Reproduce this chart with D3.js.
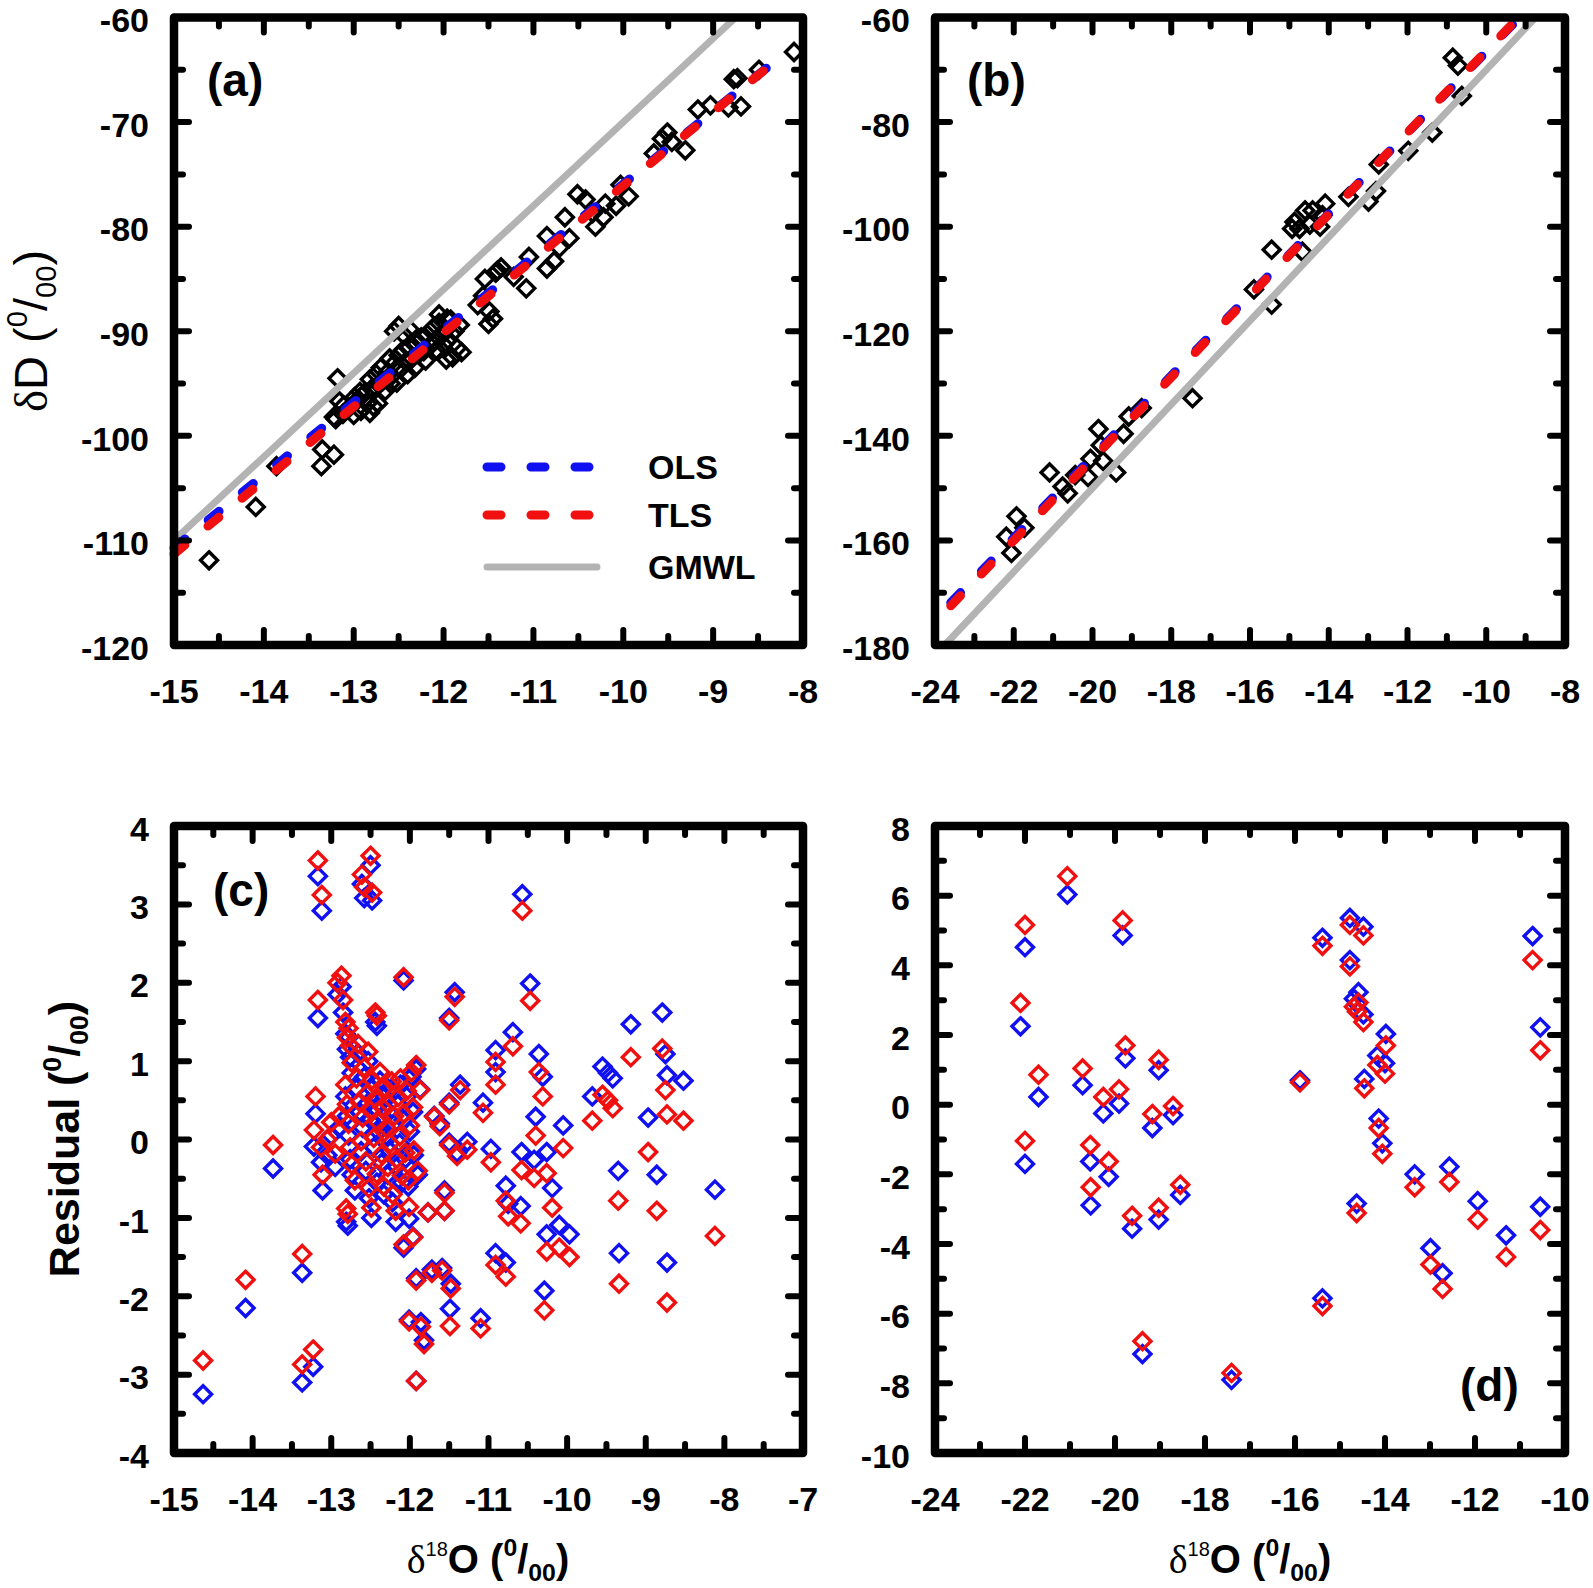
<!DOCTYPE html>
<html><head><meta charset="utf-8">
<script src="https://cdn.jsdelivr.net/npm/d3@7"></script>
<style>body{margin:0;background:#fff}</style>
</head><body>
<svg id="chart" width="1593" height="1588"></svg>
<script>
// ---------------- DATA ----------------
// Panel (a): measured δ18O / δD
const aO18 = [-14.61,-14.09,-13.86,-13.36,-13.35,-13.22,-13.18,-13.16,-13.20,-13.12,-13.22,-13.11,-12.99,-12.93,-12.82,-12.73,-12.59,
  -12.50,-12.05,-11.90,-11.88,-11.80,-11.97,-11.62,-11.45,-11.50,-11.49,-11.56,-11.40,-11.54,-11.42,-11.36,-11.22,-11.08,-11.05,
  -10.85,-10.85,-10.77,-10.71,-10.65,-10.60,-10.51,-10.42,-10.34,-10.31,-10.22,-10.20,-10.08,-10.03,-9.94,-9.66,-9.57,-9.51,-9.46,
  -9.31,-9.17,-9.03,-8.83,-8.69,-8.77,-8.73,-8.49,-8.10,
  -13.05,-13.00,-12.95,-12.92,-12.88,-12.85,-12.82,-12.80,-12.78,-12.75,-12.72,-12.70,-12.68,-12.65,-12.62,-12.60,-12.58,-12.55,
  -12.52,-12.50,-12.48,-12.45,-12.42,-12.40,-12.38,-12.35,-12.32,-12.30,-12.28,-12.25,-12.22,-12.20,-12.18,-12.15,-12.12,-12.10,
  -12.08,-12.05,-12.02,-12.00,-11.98,-11.95,-11.92,-11.85,-11.82,-12.55,-12.45,-12.38,-11.96];
const aD = [-111.9,-106.8,-102.9,-102.9,-101.3,-101.8,-94.5,-96.7,-98.4,-97.9,-98.2,-97.1,-96.3,-95.8,-97.8,-96.9,-95.0,
  -89.5,-88.4,-92.5,-90.0,-92.0,-92.7,-87.5,-88.8,-89.3,-88.1,-86.6,-84.2,-85.0,-84.4,-83.9,-84.8,-85.9,-82.9,
  -80.9,-84.0,-83.3,-82.0,-79.1,-81.1,-76.9,-77.4,-78.7,-80.0,-79.1,-77.8,-78.0,-76.0,-77.1,-73.0,-71.6,-71.0,-71.9,
  -72.7,-68.8,-68.4,-68.6,-68.5,-65.9,-65.8,-65.0,-63.3,
  -97.3,-98.0,-96.5,-97.6,-95.9,-96.9,-94.6,-95.5,-97.2,-94.1,-95.1,-93.5,-94.8,-95.7,-93.9,-92.6,-94.3,-93.1,
  -94.9,-92.3,-93.6,-91.8,-92.9,-94.1,-91.5,-92.6,-93.5,-91.2,-92.2,-90.6,-91.9,-92.8,-90.3,-91.4,-89.7,-90.9,
  -91.8,-89.2,-90.4,-91.3,-89.9,-90.8,-88.9,-91.6,-89.4,-90.0,-90.3,-89.8,-88.8];
const aOLSx = [-15, -8.2], aOLSy = [-110.7, -63.4];
const aTLSx = [-15, -8.2], aTLSy = [-111.3, -63.4];
const aGMWLx = [-15, -8.75], aGMWLy = [-110, -60];

// Panel (b)
const bO18 = [-10.85,-10.72,-10.62,-11.37,-11.98,-12.73,-12.80,-12.99,-13.50,-14.09,-14.16,-14.41,-14.60,-14.87,-14.74,-14.48,
  -14.22,-14.93,-14.67,-15.45,-15.45,-15.90,-17.46,-18.75,-19.08,-19.21,-19.40,-19.85,-19.79,-19.73,-20.05,-20.11,-20.44,
  -20.63,-20.76,-21.09,-21.93,-21.73,-22.19,-22.06];
const bD = [-67.7,-69.2,-75.0,-82.0,-85.5,-88.1,-93.2,-95.2,-94.3,-95.6,-97.8,-96.9,-96.9,-99.1,-100.4,-99.6,
  -100.0,-100.4,-104.8,-104.4,-114.9,-112.0,-132.8,-134.7,-136.3,-139.6,-147.0,-138.7,-141.8,-144.8,-144.4,-147.9,-147.5,
  -151.0,-149.7,-147.0,-155.4,-157.6,-159.3,-162.4];
const bOLSx = [-23.6, -9.0], bOLSy = [-171.9, -58.8];
const bTLSx = [-23.6, -9.0], bTLSy = [-172.5, -58.6];
const bGMWLx = [-23.75, -8.75], bGMWLy = [-180, -60];

// Panel (c): residuals for (a)
const cO18 = [-14.63,-14.09,-13.74,-13.37,-13.37,-13.23,-13.17,-13.12,-13.17,-13.20,-13.22,-13.13,-13.11,-13.05,-13.00,-12.95,-12.90,
  -12.92,-12.87,-12.85,-12.82,-12.80,-12.78,-12.76,-12.74,-12.82,-12.80,-12.78,-12.76,-12.74,-12.81,-12.79,-12.70,-12.68,-12.66,
  -12.64,-12.62,-12.61,-12.58,-12.60,-12.58,-12.56,-12.55,-12.53,-12.52,-12.50,-12.48,-12.50,-12.49,-12.48,-12.46,-12.44,-12.42,
  -12.44,-12.42,-12.40,-12.38,-12.36,-12.35,-12.33,-12.32,-12.30,-12.28,-12.27,-12.25,-12.23,-12.22,-12.20,-12.18,-12.17,-12.15,
  -12.13,-12.12,-12.10,-12.08,-12.08,-12.06,-12.04,-12.02,-12.01,-12.00,-11.98,-11.96,-11.95,-11.92,-11.90,
  -12.08,-11.96,-11.77,-11.69,-11.62,-11.50,-11.40,-11.50,-11.36,-11.87,-11.43,-11.50,-11.56,-11.56,-11.59,-11.72,-11.48,-11.92,
  -11.82,-11.86,-12.01,-11.92,-11.49,-11.10,-11.27,-11.07,-10.97,-10.91,-10.91,-10.69,-10.57,-10.47,-10.36,-10.31,-10.40,-10.05,
  -10.58,-10.42,-10.26,-10.19,-10.78,-10.75,-10.59,-10.91,-10.78,-10.26,-10.10,-9.97,-10.29,-9.68,-9.55,-9.42,-9.48,-9.19,-9.35,
  -9.34,-8.97,-8.86,-8.79,-8.75,-8.73,-8.73,-8.52,-8.12];
const cOLS = [-3.25,-2.15,-0.37,-1.70,-3.10,-2.90,3.36,2.92,1.55,0.33,-0.09,-0.29,-0.65,-0.20,0.05,-0.35,0.15,
  1.85,1.95,1.62,1.35,1.15,1.30,1.05,0.85,0.55,0.30,0.05,-0.25,-0.45,-1.05,-1.10,-0.65,0.65,1.10,
  0.35,-0.15,3.26,3.08,0.15,0.80,-0.40,0.45,1.00,-0.75,3.50,3.05,0.25,-1.00,0.65,-0.10,1.50,1.45,
  0.40,-0.55,0.10,0.75,-0.30,0.30,-0.70,0.55,0.05,-0.45,0.35,-0.15,0.65,-0.80,0.20,-1.05,-0.35,0.45,
  -0.05,0.70,-0.55,2.03,0.25,-0.25,0.55,-0.60,-1.01,0.10,0.80,0.35,-0.20,0.90,-0.45,
  -1.38,-1.24,-0.93,0.30,0.20,-0.04,-0.17,0.47,0.70,0.64,1.88,1.55,-0.65,-0.91,-1.64,-1.66,-1.84,-1.77,
  -2.56,-2.33,-2.30,-3.08,-2.16,-2.28,-0.03,0.47,-0.12,1.14,0.86,1.37,3.13,1.99,1.09,0.80,0.29,0.18,
  -0.16,-0.26,-0.16,-0.62,-0.59,-0.82,-0.85,-1.45,-1.57,-1.21,-1.09,-1.21,-1.93,0.55,0.93,0.78,0.85,1.47,-0.40,
  -1.45,0.28,-0.45,1.62,1.09,0.82,-1.57,0.75,-0.64];
const cTLS = [-2.82,-1.79,-0.07,-1.46,-2.87,-2.68,3.56,3.12,1.78,0.55,0.12,-0.10,-0.45,0.00,0.22,-0.18,0.30,
  2.00,2.09,1.78,1.50,1.30,1.42,1.20,0.98,0.70,0.45,0.20,-0.10,-0.32,-0.88,-0.95,-0.52,0.78,1.22,
  0.48,-0.02,3.38,3.22,0.28,0.92,-0.28,0.58,1.12,-0.62,3.62,3.15,0.37,-0.87,0.76,0.02,1.62,1.58,
  0.52,-0.44,0.22,0.86,-0.19,0.41,-0.60,0.66,0.15,-0.35,0.45,-0.05,0.74,-0.70,0.30,-0.91,-0.25,0.54,
  0.04,0.78,-0.46,2.07,0.33,-0.17,0.62,-0.52,-0.86,0.18,0.86,0.41,-0.14,0.95,-0.40,
  -1.34,-1.25,-0.93,0.29,0.17,-0.07,-0.21,0.45,0.63,0.63,1.82,1.52,-0.68,-0.91,-1.67,-1.70,-1.90,-1.80,
  -2.61,-2.39,-2.32,-3.08,-2.38,-2.41,-0.13,0.34,-0.29,0.99,0.70,1.19,2.92,1.77,0.86,0.55,0.05,-0.11,
  -0.39,-0.49,-0.43,-0.87,-0.78,-0.98,-1.07,-1.60,-1.75,-1.43,-1.38,-1.50,-2.18,0.24,0.57,0.40,0.50,1.05,-0.78,
  -1.84,-0.16,-0.91,1.16,0.63,0.32,-2.08,0.24,-1.23];

// Panel (d): residuals for (b)
const dO18 = [-22.10,-22.00,-22.00,-21.70,-21.06,-20.72,-20.55,-20.54,-20.26,-20.14,-19.91,-19.83,-19.77,-19.62,-19.39,-19.17,
  -19.03,-19.03,-18.71,-18.55,-17.41,-15.89,-15.39,-15.39,-14.78,-14.48,-14.78,-14.59,-14.69,-14.62,-14.48,-14.46,-14.63,
  -14.14,-14.06,-13.98,-14.17,-14.00,-13.34,-12.99,-12.72,-12.57,-11.94,-11.31,-10.72,-10.55,-10.55];
const dOLS = [2.25,4.52,-1.70,0.22,6.03,0.56,-1.63,-2.89,-0.25,-2.07,0.03,4.86,1.33,-3.56,-7.16,-0.67,
  0.99,-3.30,-0.30,-2.59,-7.90,0.70,4.79,-5.56,5.36,5.11,4.15,3.23,3.04,2.90,2.59,0.74,-2.84,
  -0.40,-1.11,2.03,1.41,1.19,-2.00,-4.12,-4.84,-1.78,-2.77,-3.75,4.84,2.22,-2.93];
const dTLS = [2.92,5.16,-1.04,0.86,6.56,1.04,-1.16,-2.37,0.22,-1.63,0.44,5.29,1.70,-3.19,-6.79,-0.27,
  1.29,-2.96,-0.04,-2.30,-7.70,0.64,4.56,-5.78,5.16,4.86,3.97,2.93,2.81,2.67,2.37,0.47,-3.11,
  -0.67,-1.41,1.70,1.14,0.89,-2.37,-4.59,-5.29,-2.22,-3.30,-4.37,4.15,1.56,-3.60];

// Tick values
const aXTicks = [-15,-14,-13,-12,-11,-10,-9,-8];
const aYTicks = [-120,-110,-100,-90,-80,-70,-60];
const bXTicks = [-24,-22,-20,-18,-16,-14,-12,-10,-8];
const bYTicks = [-180,-160,-140,-120,-100,-80,-60];
const cXTicks = [-15,-14,-13,-12,-11,-10,-9,-8,-7];
const cYTicks = [-4,-3,-2,-1,0,1,2,3,4];
const dXTicks = [-24,-22,-20,-18,-16,-14,-12,-10];
const dYTicks = [-10,-8,-6,-4,-2,0,2,4,6,8];
const legendLabels = ["OLS","TLS","GMWL"];

// ---------------- DRAW ----------------
const svg = d3.select("#chart");
const FONT = "'Liberation Sans', Arial, sans-serif";
const SERIF = "'Liberation Serif', 'DejaVu Serif', serif";
const BLUE = "#1010f0", RED = "#f01010", GRAY = "#b3b3b3";
const TICKFONT = 34;

function makePanel(cfg){
  const x = d3.scaleLinear().domain(cfg.xd).range([cfg.l, cfg.r]);
  const y = d3.scaleLinear().domain(cfg.yd).range([cfg.b, cfg.t]);
  const g = svg.append("g");
  return {x, y, g, cfg};
}

function drawFrame(p, xMajor, xMinorStep, yMajor, yMinorStep){
  const {x, y, g, cfg} = p;
  const tk = g.append("g").attr("stroke","#000").attr("stroke-width",6).attr("stroke-linecap","round");
  const xMin = d3.range(cfg.xd[0], cfg.xd[1] + 1e-9, xMinorStep);
  const yMin = d3.range(cfg.yd[0], cfg.yd[1] + 1e-9, yMinorStep);
  const isMaj = (arr, v) => arr.some(a => Math.abs(a - v) < 1e-6);
  xMin.forEach(v => {
    const L = isMaj(xMajor, v) ? 15 : 9;
    tk.append("line").attr("x1",x(v)).attr("x2",x(v)).attr("y1",cfg.b).attr("y2",cfg.b-L);
    tk.append("line").attr("x1",x(v)).attr("x2",x(v)).attr("y1",cfg.t).attr("y2",cfg.t+L);
  });
  yMin.forEach(v => {
    const L = isMaj(yMajor, v) ? 15 : 9;
    tk.append("line").attr("y1",y(v)).attr("y2",y(v)).attr("x1",cfg.l).attr("x2",cfg.l+L);
    tk.append("line").attr("y1",y(v)).attr("y2",y(v)).attr("x1",cfg.r).attr("x2",cfg.r-L);
  });
  g.append("rect").attr("x",cfg.l).attr("y",cfg.t).attr("width",cfg.r-cfg.l).attr("height",cfg.b-cfg.t)
    .attr("fill","none").attr("stroke","#000").attr("stroke-width",8.5).attr("stroke-linejoin","round");
  // tick labels (digits vertically centred with dy = 0.36em)
  g.append("g").selectAll("text").data(xMajor).join("text")
    .attr("x", d => x(d)).attr("y", cfg.b + 46).attr("dy","0.36em").attr("text-anchor","middle")
    .attr("font-family",FONT).attr("font-weight","bold").attr("font-size",TICKFONT).text(d => String(d));
  g.append("g").selectAll("text").data(yMajor).join("text")
    .attr("x", cfg.l - 25).attr("y", d => y(d) + 2.5).attr("dy","0.36em").attr("text-anchor","end")
    .attr("font-family",FONT).attr("font-weight","bold").attr("font-size",TICKFONT).text(d => String(d));
}

const diamond = r => `M0,${-r}L${r},0L0,${r}L${-r},0Z`;
function drawPoints(p, xs, ys, color, r){
  p.g.append("g").selectAll("path").data(xs.map((v,i)=>[v, ys[i]])).join("path")
    .attr("d", diamond(r)).attr("transform", d => `translate(${p.x(d[0])},${p.y(d[1])})`)
    .attr("fill","none").attr("stroke",color).attr("stroke-width",3.4);
}
function drawLine(p, xs, ys, color, dashed, w){
  const line = d3.line().x(d => p.x(d[0])).y(d => p.y(d[1]));
  const path = p.g.append("path").attr("d", line(xs.map((v,i)=>[v, ys[i]])))
    .attr("fill","none").attr("stroke",color).attr("stroke-width",w).attr("stroke-linecap","round");
  if (dashed) path.attr("stroke-dasharray","14,30");
}

function rich(text, parts, size){
  let off = 0;
  parts.forEach(pt => {
    const target = pt.sup ? -0.42*size : pt.sub ? 0.2*size : 0;
    const ts = text.append("tspan").text(pt.t).attr("dy", target - off);
    off = target;
    if (pt.sup || pt.sub) ts.attr("font-size", size*(pt.scale || 0.62));
    if (pt.family) ts.attr("font-family", pt.family);
    if (pt.weight) ts.attr("font-weight", pt.weight);
  });
}
function panelLabel(p, txt, xx, yy){
  p.g.append("text").attr("x",xx).attr("y",yy).attr("font-family",FONT).attr("font-weight","bold")
    .attr("font-size",46).text(txt);
}
function o18Title(cx){
  const t = svg.append("text").attr("x",cx).attr("y",1573).attr("text-anchor","middle")
    .attr("font-family",FONT).attr("font-weight","bold").attr("font-size",40);
  rich(t, [{t:"δ",family:SERIF,weight:"normal"},{t:"18",sup:true,scale:0.5,weight:"normal"},{t:"O (",},
           {t:"0",sup:true},{t:"/"},{t:"00",sub:true},{t:")"}], 40);
}

// Panel a
const pa = makePanel({xd:[-15,-8], yd:[-120,-60], l:174, r:803, t:17.5, b:645});
drawPoints(pa, aO18, aD, "#000", 8.5);
drawLine(pa, aGMWLx, aGMWLy, GRAY, false, 7);
drawLine(pa, aOLSx, aOLSy, BLUE, true, 9);
drawLine(pa, aTLSx, aTLSy, RED, true, 9);
drawFrame(pa, aXTicks, 0.5, aYTicks, 5);
panelLabel(pa, "(a)", 207, 96);
// legend
const legY = [467, 515, 567], legCol = [BLUE, RED, GRAY], legDash = [true, true, false];
legendLabels.forEach((lab, i) => {
  const ln = pa.g.append("line").attr("x1",487).attr("x2", legDash[i] ? 592 : 597).attr("y1",legY[i]).attr("y2",legY[i])
    .attr("stroke",legCol[i]).attr("stroke-width", legDash[i] ? 9 : 7).attr("stroke-linecap","round");
  if (legDash[i]) ln.attr("stroke-dasharray","14,30");
  pa.g.append("text").attr("x",648).attr("y",legY[i]).attr("dy","0.36em")
    .attr("font-family",FONT).attr("font-weight","bold").attr("font-size",34).text(lab);
});

// Panel b
const pb = makePanel({xd:[-24,-8], yd:[-180,-60], l:935, r:1565, t:17.5, b:645});
drawPoints(pb, bO18, bD, "#000", 8.5);
drawLine(pb, bGMWLx, bGMWLy, GRAY, false, 7);
drawLine(pb, bOLSx, bOLSy, BLUE, true, 9);
drawLine(pb, bTLSx, bTLSy, RED, true, 9);
drawFrame(pb, bXTicks, 1, bYTicks, 10);
panelLabel(pb, "(b)", 967, 96);

// Panel c
const pc = makePanel({xd:[-15,-7], yd:[-4,4], l:174, r:803, t:826, b:1453});
drawPoints(pc, cO18, cOLS, BLUE, 8.5);
drawPoints(pc, cO18, cTLS, RED, 8.5);
drawFrame(pc, cXTicks, 0.5, cYTicks, 0.5);
panelLabel(pc, "(c)", 213, 906);

// Panel d
const pd = makePanel({xd:[-24,-10], yd:[-10,8], l:935, r:1565, t:826, b:1453});
drawPoints(pd, dO18, dOLS, BLUE, 8.5);
drawPoints(pd, dO18, dTLS, RED, 8.5);
drawFrame(pd, dXTicks, 1, dYTicks, 1);
panelLabel(pd, "(d)", 1460, 1401);

// Axis titles
const tA = svg.append("text").attr("transform","translate(47,331) rotate(-90)").attr("text-anchor","middle")
  .attr("font-family",FONT).attr("font-size",47);
rich(tA, [{t:"δ",family:SERIF},{t:"D ("},{t:"0",sup:true},{t:"/"},{t:"00",sub:true},{t:")"}], 47);
const tC = svg.append("text").attr("transform","translate(79,1139) rotate(-90)").attr("text-anchor","middle")
  .attr("font-family",FONT).attr("font-weight","bold").attr("font-size",43);
rich(tC, [{t:"Residual ("},{t:"0",sup:true},{t:"/"},{t:"00",sub:true},{t:")"}], 43);
o18Title(488);
o18Title(1250);
</script>
</body></html>
